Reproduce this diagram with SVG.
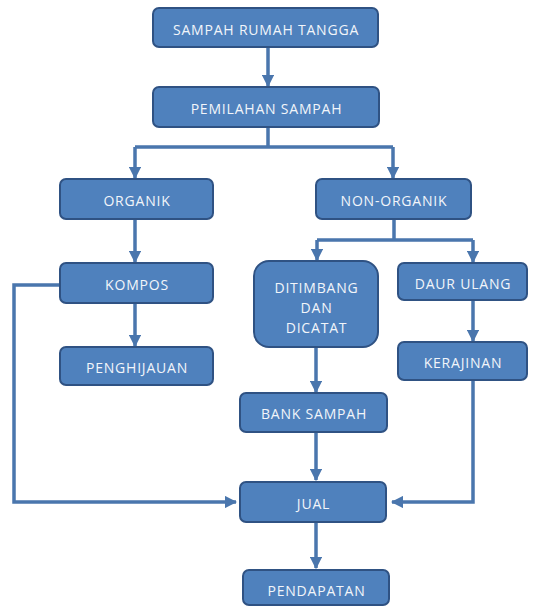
<svg xmlns="http://www.w3.org/2000/svg" width="537" height="607" viewBox="0 0 537 607">
<style>
.n rect{fill:#4f81bd;stroke:#2f5283;stroke-width:2}
.n text{fill:#f2f5fa;font-family:"Open Sans","Liberation Sans",Arial,sans-serif;font-size:14px;letter-spacing:0.8px;text-anchor:middle;dominant-baseline:central}
.c{fill:none;stroke:#4a76ad;stroke-width:3.5}
</style>
<defs>
<marker id="ah" viewBox="0 0 10 10" refX="9" refY="5" markerWidth="3.5" markerHeight="3.5" orient="auto" markerUnits="strokeWidth">
<path d="M0,0 L10,5 L0,10 z" fill="#4a76ad"/>
</marker>
</defs>
<rect width="537" height="607" fill="#ffffff"/>
<g id="connectors">
<path class="c" d="M268,47 V86" marker-end="url(#ah)"/>
<path class="c" d="M268,127 V147 M135,147 H393"/>
<path class="c" d="M135,147 V178" marker-end="url(#ah)"/>
<path class="c" d="M393,147 V178" marker-end="url(#ah)"/>
<path class="c" d="M135,219 V262" marker-end="url(#ah)"/>
<path class="c" d="M135,303 V346" marker-end="url(#ah)"/>
<path class="c" d="M394,219 V240 M317,240 H473"/>
<path class="c" d="M317,240 V260" marker-end="url(#ah)"/>
<path class="c" d="M473,240 V262" marker-end="url(#ah)"/>
<path class="c" d="M473,300 V341" marker-end="url(#ah)"/>
<path class="c" d="M316,347 V392" marker-end="url(#ah)"/>
<path class="c" d="M316,432 V480" marker-end="url(#ah)"/>
<path class="c" d="M316,522 V568" marker-end="url(#ah)"/>
<path class="c" d="M60,285 H14 V502 H236" marker-end="url(#ah)"/>
<path class="c" d="M473,380 V502 H392" marker-end="url(#ah)"/>
</g>
<g id="sampah-rumah-tangga" class="n"><rect x="153" y="8" width="225" height="39" rx="6"/><text x="266" y="29">SAMPAH RUMAH TANGGA</text></g>
<g id="pemilahan-sampah" class="n"><rect x="153" y="87" width="226" height="40" rx="6"/><text x="266.5" y="108">PEMILAHAN SAMPAH</text></g>
<g id="organik" class="n"><rect x="60" y="179" width="153" height="40" rx="6"/><text x="137" y="200">ORGANIK</text></g>
<g id="non-organik" class="n"><rect x="316" y="179" width="155" height="40" rx="6"/><text x="394" y="200">NON-ORGANIK</text></g>
<g id="kompos" class="n"><rect x="60" y="263" width="153" height="40" rx="6"/><text x="137" y="284">KOMPOS</text></g>
<g id="penghijauan" class="n"><rect x="60" y="347" width="153" height="38" rx="6"/><text x="137" y="367">PENGHIJAUAN</text></g>
<g id="ditimbang" class="n"><rect x="254" y="261" width="124" height="86" rx="15"/><text x="316.5" y="287">DITIMBANG</text><text x="316.5" y="307">DAN</text><text x="316.5" y="327">DICATAT</text></g>
<g id="daur-ulang" class="n"><rect x="398" y="263" width="129" height="37" rx="6"/><text x="463" y="283">DAUR ULANG</text></g>
<g id="kerajinan" class="n"><rect x="398" y="342" width="129" height="38" rx="6"/><text x="463" y="362">KERAJINAN</text></g>
<g id="bank-sampah" class="n"><rect x="240" y="393" width="147" height="39" rx="6"/><text x="314" y="413">BANK SAMPAH</text></g>
<g id="jual" class="n"><rect x="240" y="482" width="146" height="40" rx="6"/><text x="313.5" y="503">JUAL</text></g>
<g id="pendapatan" class="n"><rect x="243" y="570" width="146" height="35" rx="6"/><text x="316.5" y="590">PENDAPATAN</text></g>
</svg>
